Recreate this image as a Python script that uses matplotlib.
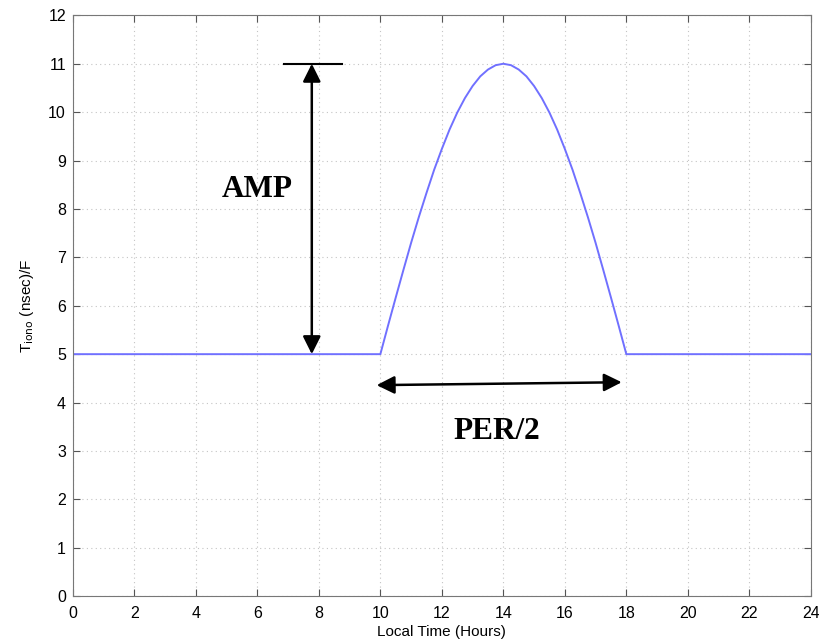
import numpy as np
import matplotlib.pyplot as plt

# local time (hours) and ionospheric delay
hours = [0, 10.0, 10.25, 10.5, 10.75, 11.0, 11.25, 11.5, 11.75, 12.0, 12.25, 12.5, 12.75,
         13.0, 13.25, 13.5, 13.75, 14.0, 14.25, 14.5, 14.75, 15.0, 15.25, 15.5, 15.75,
         16.0, 16.25, 16.5, 16.75, 17.0, 17.25, 17.5, 17.75, 18.0, 24]
delay = [5.0, 5.0, 5.59, 6.17, 6.74, 7.30, 7.83, 8.33, 8.81, 9.24, 9.64, 9.99, 10.29,
         10.54, 10.74, 10.88, 10.97, 11.0, 10.97, 10.88, 10.74, 10.54, 10.29, 9.99, 9.64,
         9.24, 8.81, 8.33, 7.83, 7.30, 6.74, 6.17, 5.59, 5.0, 5.0]

xticks = np.arange(0, 25, 2)
yticks = np.arange(0, 13, 1)

plt.rcParams['font.family'] = ['Liberation Sans', 'DejaVu Sans']

fig = plt.figure(figsize=(8.19, 6.39), dpi=100)
ax = fig.add_axes([0.089, 0.067, 0.901, 0.909])

ax.plot(hours, delay, color='#7070ff', lw=1.4)

ax.set_xlim(0, 24)
ax.set_ylim(0, 12)
ax.set_xticks(xticks)
ax.set_yticks(yticks)
ax.tick_params(direction='in', top=True, right=True, labelsize=11.5, length=5, color='#555555')
ax.tick_params(axis='x', pad=7)
ax.tick_params(axis='y', pad=5)
ax.grid(True, ls=(0, (1, 3)), color='#c4c4c4', lw=0.8)
for s in ax.spines.values():
    s.set_color('#777777')

ax.set_xlabel('Local Time (Hours)', fontsize=11, labelpad=3)
ax.set_ylabel(r'T$_{\rm iono}$ (nsec)/F', fontsize=11, labelpad=9)

# AMP annotation
ax.annotate('', xy=(7.77, 11.0), xytext=(7.77, 5.0),
            arrowprops=dict(arrowstyle='<|-|>', color='black', lw=1.8, mutation_scale=27,
                            shrinkA=0, shrinkB=0))
ax.plot([6.86, 8.75], [11.0, 11.0], color='black', lw=1.5)
ax.text(5.98, 8.4, 'AMP', family='Liberation Serif', weight='bold', fontsize=22.5,
        ha='center', va='center')

# PER/2 annotation
ax.annotate('', xy=(17.85, 4.42), xytext=(9.88, 4.36),
            arrowprops=dict(arrowstyle='<|-|>', color='black', lw=1.8, mutation_scale=27,
                            shrinkA=0, shrinkB=0))
ax.text(13.8, 3.4, 'PER/2', family='Liberation Serif', weight='bold', fontsize=22.5,
        ha='center', va='center')

fig.savefig('out.png', dpi=100)
